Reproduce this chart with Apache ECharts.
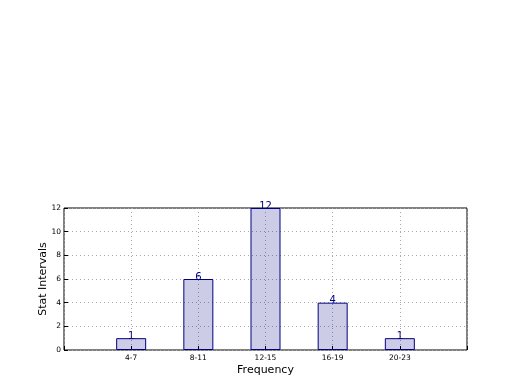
<!DOCTYPE html>
<html><head><meta charset="utf-8">
<script src="https://cdn.jsdelivr.net/npm/echarts@6/dist/echarts.min.js"></script>
<style>html,body{margin:0;padding:0;background:#fff}#c{width:520px;height:390px}</style>
</head><body><div id="c"></div>
<script>
const categories = ['4-7', '8-11', '12-15', '16-19', '20-23'];
const values = [1, 6, 12, 4, 1];
const positions = [1, 2, 3, 4, 5];
const yTicks = [0, 2, 4, 6, 8, 10, 12];

const chart = echarts.init(document.getElementById('c'), null, {renderer: 'canvas'});
const font = 'DejaVu Sans';
const data = positions.map((p, i) => [p, values[i]]);
chart.setOption({
  animation: false,
  backgroundColor: '#fff',
  grid: {left: 64, right: 53, top: 208, bottom: 40, show: true, borderColor: '#000', borderWidth: 1, backgroundColor: 'transparent'},
  xAxis: {
    type: 'value', min: 0, max: 6, interval: 1,
    name: 'Frequency', nameLocation: 'middle', nameGap: 15, nameMoveOverlap: false,
    nameTextStyle: {fontFamily: font, fontSize: 11, color: '#000'},
    axisLine: {show: false},
    axisTick: {show: true, inside: true, length: 4, lineStyle: {color: '#000'}},
    axisLabel: {fontFamily: font, fontSize: 7.5, color: '#000', margin: 4,
      formatter: v => { const i = positions.indexOf(v); return i >= 0 ? categories[i] : ''; }},
    splitLine: {show: true, lineStyle: {color: '#a8a8a8', type: [1, 3], width: 1}}
  },
  yAxis: {
    type: 'value', min: 0, max: 12, interval: 2,
    name: 'Stat Intervals', nameLocation: 'middle', nameGap: 15, nameRotate: 90, nameMoveOverlap: false,
    nameTextStyle: {fontFamily: font, fontSize: 11, color: '#000'},
    axisLine: {show: false},
    axisTick: {show: true, inside: true, length: 4, lineStyle: {color: '#000'}},
    axisLabel: {fontFamily: font, fontSize: 7.5, color: '#000', margin: 3,
      formatter: v => yTicks.includes(v) ? String(v) : ''},
    splitLine: {show: true, lineStyle: {color: '#a8a8a8', type: [1, 3], width: 1}}
  },
  series: [{
    type: 'bar', data: data, barWidth: 30,
    itemStyle: {color: 'rgba(0,0,128,0.2)', borderColor: '#000080', borderWidth: 1},
    label: {show: true, position: 'top', distance: -3, fontFamily: font, fontSize: 10, color: '#000080',
      formatter: p => String(p.value[1])}
  }]
});
</script></body></html>
